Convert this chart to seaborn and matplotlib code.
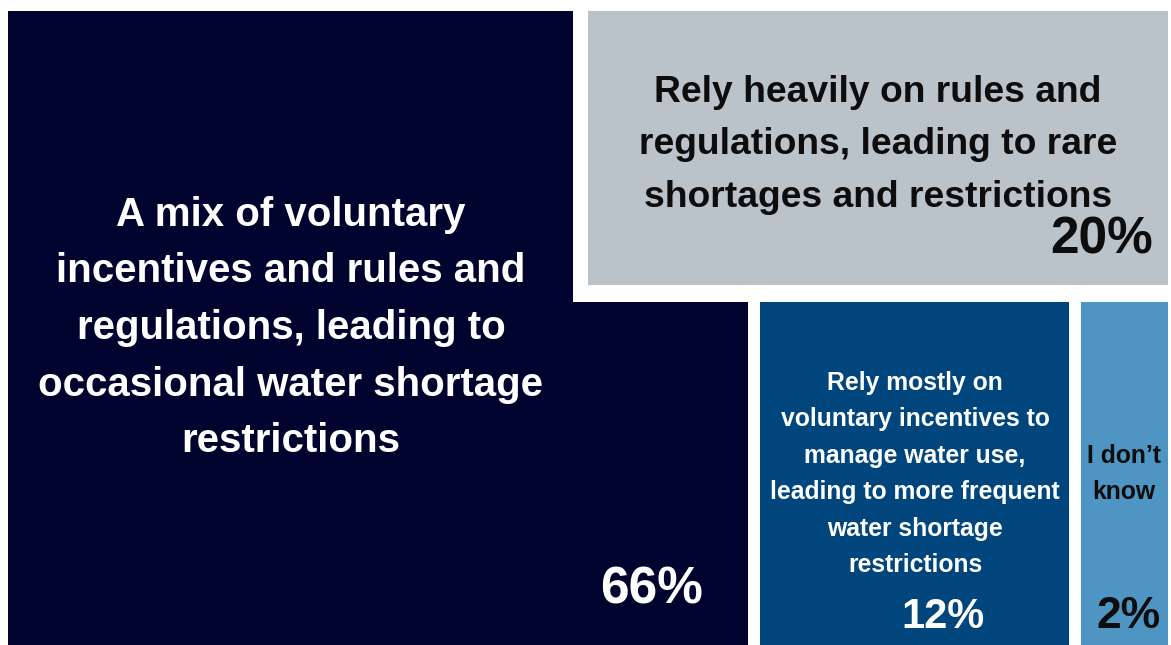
import matplotlib
matplotlib.use("Agg")
import matplotlib.pyplot as plt
import seaborn as sns

# Survey responses: preferred approach to managing water use
categories = [
    "A mix of voluntary\nincentives and rules and\nregulations, leading to\noccasional water shortage\nrestrictions",
    "Rely heavily on rules and\nregulations, leading to rare\nshortages and restrictions",
    "Rely mostly on\nvoluntary incentives to\nmanage water use,\nleading to more frequent\nwater shortage\nrestrictions",
    "I don\u2019t\nknow",
]
shares = [66, 20, 12, 2]

# Tile geometry in canvas pixels: (left, top, width, height)
tiles = [
    (8, 11, 740, 650),
    (588, 11, 580, 274),
    (760, 302, 309, 360),
    (1081, 302, 87, 360),
]
fills = ["#01032F", "#BBC3CA", "#00457C", "#4F95C3"]
ink = ["white", "#0d0d0d", "white", "#0d0d0d"]

# Label placement: (x, y, fontsize, linespacing) and percentage placement
label_pos = [(291, 328, 29, 1.62), (878, 145, 26.8, 1.65), (915, 474, 17.8, 1.65), (1124, 474, 17.8, 1.65)]
pct_pos = [(652, 590, 37, "center"), (1153, 240, 37, "right"), (943, 617, 30, "center"), (1161, 617, 32, "right")]

sns.set_theme(style="white")
plt.rcParams["font.family"] = ["Liberation Sans", "DejaVu Sans"]

fig = plt.figure(figsize=(11.71, 6.45), dpi=100)
ax = fig.add_axes([0, 0, 1, 1])
ax.set_xlim(0, 1171)
ax.set_ylim(645, 0)
ax.axis("off")

# Largest tile first, then a white gutter around the upper-right tile
l, t, w, h = tiles[0]
ax.bar(l, h, width=w, bottom=t, align="edge", color=fills[0], linewidth=0)
ax.bar(573, 302, width=600, bottom=0, align="edge", color="white", linewidth=0)
for (l, t, w, h), c in zip(tiles[1:], fills[1:]):
    ax.bar(l, h, width=w, bottom=t, align="edge", color=c, linewidth=0)

for cat, v, (x, y, fs, ls), (px, py, pfs, ha), c in zip(categories, shares, label_pos, pct_pos, ink):
    ax.text(x, y, cat, ha="center", va="center", fontsize=fs, fontweight="bold",
            color=c, linespacing=ls, multialignment="center")
    ax.text(px, py, f"{v}%", ha=ha, va="center", fontsize=pfs, fontweight="bold", color=c)

fig.savefig("out.png", dpi=100, facecolor="white")
